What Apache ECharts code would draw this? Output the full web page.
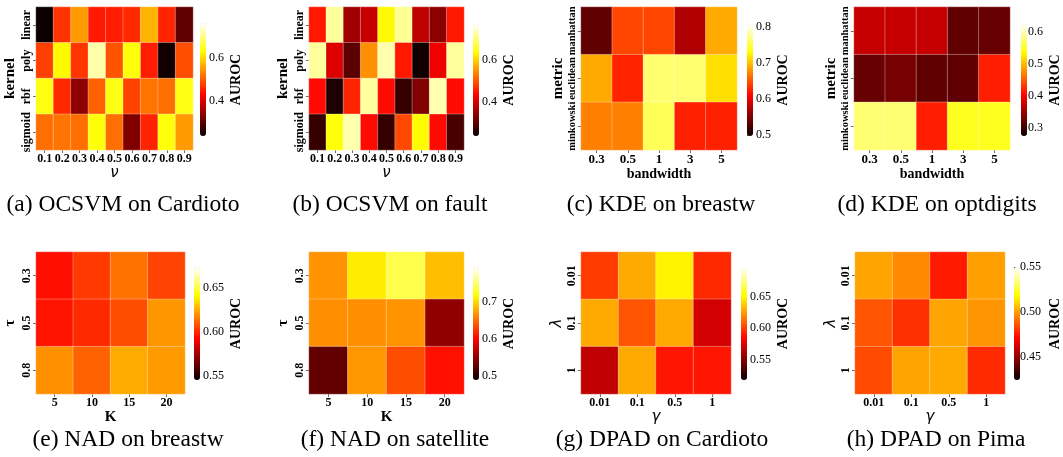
<!DOCTYPE html>
<html>
<head>
<meta charset="utf-8">
<script src="https://cdn.jsdelivr.net/npm/echarts@6/dist/echarts.min.js"></script>
<style>
  html, body { margin: 0; padding: 0; background: #fff; }
  #chart { width: 1063px; height: 457px; }
</style>
</head>
<body>
<div id="chart"></div>
<script>
// axis categories
const nuLabels = ['0.1', '0.2', '0.3', '0.4', '0.5', '0.6', '0.7', '0.8', '0.9']
const kernelLabels = ['linear', 'poly', 'rbf', 'sigmoid']
const bwLabels = ['0.3', '0.5', '1', '3', '5']
const metricLabels = ['manhattan', 'euclidean', 'minkowski']
const kLabels = ['5', '10', '15', '20']
const tauLabels = ['0.3', '0.5', '0.8']
const gammaLabels = ['0.01', '0.1', '0.5', '1']
const lambdaLabels = ['0.01', '0.1', '1']

// AUROC grids, rows top -> bottom
const ocsvmCardioto = [
  [0.234, 0.468, 0.55, 0.448, 0.45, 0.46, 0.57, 0.455, 0.302],
  [0.478, 0.627, 0.47, 0.72, 0.494, 0.635, 0.45, 0.24, 0.49],
  [0.64, 0.46, 0.339, 0.505, 0.64, 0.48, 0.52, 0.515, 0.64],
  [0.515, 0.52, 0.515, 0.635, 0.515, 0.327, 0.455, 0.635, 0.55]
]
const ocsvmFault = [
  [0.45, 0.719, 0.356, 0.386, 0.633, 0.715, 0.38, 0.34, 0.45],
  [0.72, 0.404, 0.3, 0.547, 0.73, 0.45, 0.24, 0.42, 0.72],
  [0.44, 0.25, 0.46, 0.72, 0.44, 0.27, 0.33, 0.73, 0.44],
  [0.27, 0.64, 0.73, 0.44, 0.27, 0.49, 0.635, 0.44, 0.285]
]
const kdeBreastw = [
  [0.537, 0.642, 0.642, 0.574, 0.689],
  [0.689, 0.626, 0.763, 0.763, 0.714],
  [0.669, 0.669, 0.755, 0.625, 0.625]
]
const kdeOptdigits = [
  [0.372, 0.372, 0.372, 0.319, 0.322],
  [0.322, 0.331, 0.319, 0.319, 0.418],
  [0.575, 0.575, 0.418, 0.546, 0.546]
]
const nadBreastw = [
  [0.595, 0.603, 0.614, 0.605],
  [0.596, 0.6, 0.607, 0.621],
  [0.62, 0.611, 0.625, 0.622]
]
const nadSatellite = [
  [0.668, 0.709, 0.74, 0.688],
  [0.666, 0.666, 0.668, 0.55],
  [0.529, 0.67, 0.636, 0.608]
]
const dpadCardioto = [
  [0.599, 0.629, 0.649, 0.594],
  [0.629, 0.606, 0.629, 0.571],
  [0.566, 0.629, 0.589, 0.589]
]
const dpadPima = [
  [0.501, 0.496, 0.475, 0.5],
  [0.486, 0.479, 0.501, 0.498],
  [0.484, 0.501, 0.502, 0.478]
]

// colorbar ranges and ticks
const rangeA = [0.234, 0.765]
const rangeB = [0.235, 0.773]
const rangeC = [0.497, 0.807]
const rangeD = [0.274, 0.624]
const rangeE = [0.545, 0.674]
const rangeF = [0.489, 0.795]
const rangeG = [0.517, 0.698]
const rangeH = [0.424, 0.55]
const ticksA = ['0.4', '0.6']
const ticksB = ['0.4', '0.6']
const ticksC = ['0.5', '0.6', '0.7', '0.8']
const ticksD = ['0.3', '0.4', '0.5', '0.6']
const ticksE = ['0.55', '0.60', '0.65']
const ticksF = ['0.5', '0.6', '0.7']
const ticksG = ['0.55', '0.60', '0.65']
const ticksH = ['0.45', '0.50', '0.55']

// matplotlib "hot" colormap
function hot(t) {
  const c = v => Math.max(0, Math.min(1, v))
  const r = c(0.0416 + t / 0.365079 * (1 - 0.0416))
  const g = c((t - 0.365079) / (0.746032 - 0.365079))
  const b = c((t - 0.746032) / (1 - 0.746032))
  return 'rgb(' + [r, g, b].map(v => Math.round(v * 255)).join(',') + ')'
}
const hotColors = []
for (let i = 0; i <= 60; i++) hotColors.push(hot(i / 60))

const SERIF = 'Liberation Serif'
const GREEK = { fontFamily: 'DejaVu Sans', fontStyle: 'italic', fontWeight: 'normal', fontSize: 15, color: '#000' }
const BOLDNAME = { fontFamily: SERIF, fontWeight: 'bold', fontSize: 15, color: '#000' }

const panels = [
  { x: nuLabels, y: kernelLabels, v: ocsvmCardioto, range: rangeA, ticks: ticksA,
    xName: 'ν', xStyle: GREEK, yName: 'kernel', yStyle: BOLDNAME, xFont: 12, yFont: 12, xGap: 14, yGap: 18,
    box: [36, 7, 157, 143], bar: [200, 23, 6, 113], barGap: 23, cap: '(a) OCSVM on Cardioto', capPos: [123, 205] },
  { x: nuLabels, y: kernelLabels, v: ocsvmFault, range: rangeB, ticks: ticksB,
    xName: 'ν', xStyle: GREEK, yName: 'kernel', yStyle: BOLDNAME, xFont: 12, yFont: 12, xGap: 14, yGap: 18,
    box: [309, 7, 155, 143], bar: [473, 24, 6, 112], barGap: 23, cap: '(b) OCSVM on fault', capPos: [390, 205] },
  { x: bwLabels, y: metricLabels, v: kdeBreastw, range: rangeC, ticks: ticksC,
    xName: 'bandwidth', xStyle: Object.assign({}, BOLDNAME, { fontSize: 14 }), yName: 'metric', yStyle: BOLDNAME, xFont: 13, yFont: 10.5, xGap: 15, yGap: 12,
    box: [581, 7, 156, 143], bar: [747, 24, 6, 112], barGap: 23, cap: '(c) KDE on breastw', capPos: [661, 205] },
  { x: bwLabels, y: metricLabels, v: kdeOptdigits, range: rangeD, ticks: ticksD,
    xName: 'bandwidth', xStyle: Object.assign({}, BOLDNAME, { fontSize: 14 }), yName: 'metric', yStyle: BOLDNAME, xFont: 13, yFont: 10.5, xGap: 15, yGap: 12,
    box: [854, 7, 156, 143], bar: [1021, 24, 6, 112], barGap: 23, cap: '(d) KDE on optdigits', capPos: [937, 205] },
  { x: kLabels, y: tauLabels, v: nadBreastw, range: rangeE, ticks: ticksE,
    xName: 'K', xStyle: BOLDNAME, yName: 'τ', yStyle: BOLDNAME, xFont: 12, yFont: 12, xGap: 14, yGap: 18,
    box: [36, 252, 149, 142], bar: [194, 267, 6, 113], barGap: 29, cap: '(e) NAD on breastw', capPos: [128, 440] },
  { x: kLabels, y: tauLabels, v: nadSatellite, range: rangeF, ticks: ticksF,
    xName: 'K', xStyle: BOLDNAME, yName: 'τ', yStyle: BOLDNAME, xFont: 12, yFont: 12, xGap: 14, yGap: 18,
    box: [309, 252, 155, 142], bar: [473, 267, 6, 113], barGap: 23, cap: '(f) NAD on satellite', capPos: [395, 440] },
  { x: gammaLabels, y: lambdaLabels, v: dpadCardioto, range: rangeG, ticks: ticksG,
    xName: 'γ', xStyle: GREEK, yName: 'λ', yStyle: GREEK, xFont: 12, yFont: 12, xGap: 14, yGap: 16,
    box: [581, 252, 150, 142], bar: [741, 267, 6, 113], barGap: 29, cap: '(g) DPAD on Cardioto', capPos: [662, 440] },
  { x: gammaLabels, y: lambdaLabels, v: dpadPima, range: rangeH, ticks: ticksH,
    xName: 'γ', xStyle: GREEK, yName: 'λ', yStyle: GREEK, xFont: 12, yFont: 12, xGap: 14, yGap: 16,
    box: [855, 252, 150, 142], bar: [1014, 267, 6, 113], barGap: 31, cap: '(h) DPAD on Pima', capPos: [936, 440] }
]

const grid = [], xAxis = [], yAxis = [], series = [], visualMap = [], graphic = []
const tickStyle = { show: true, length: 3, alignWithLabel: true, lineStyle: { color: '#444', width: 0.8 } }

panels.forEach((p, i) => {
  const [l, t, w, h] = p.box
  grid.push({ left: l, top: t, width: w, height: h })
  xAxis.push({
    type: 'category', gridIndex: i, data: p.x, position: 'bottom',
    axisLine: { show: false }, axisTick: tickStyle, splitLine: { show: false },
    axisLabel: { interval: 0, margin: 3, fontFamily: SERIF, fontWeight: 'bold', fontSize: p.xFont, color: '#000' },
    name: p.xName, nameLocation: 'middle', nameGap: p.xGap, nameTextStyle: p.xStyle
  })
  yAxis.push({
    type: 'category', gridIndex: i, data: p.y, inverse: true,
    axisLine: { show: false }, axisTick: tickStyle, splitLine: { show: false },
    axisLabel: { interval: 0, rotate: 90, margin: 3, fontFamily: SERIF, fontWeight: 'bold', fontSize: p.yFont, color: '#000' },
    name: p.yName, nameLocation: 'middle', nameRotate: 90, nameGap: p.yGap, nameTextStyle: p.yStyle
  })
  const data = []
  p.v.forEach((row, r) => row.forEach((val, c) => data.push([c, r, val])))
  series.push({
    type: 'heatmap', xAxisIndex: i, yAxisIndex: i, data: data,
    itemStyle: { borderColor: 'rgba(255,255,255,0.45)', borderWidth: 0.7 },
    emphasis: { disabled: true }
  })
  visualMap.push({
    type: 'continuous', seriesIndex: i, min: p.range[0], max: p.range[1],
    calculable: false, hoverLink: false, padding: 0,
    left: p.bar[0], top: p.bar[1], itemWidth: p.bar[2], itemHeight: p.bar[3],
    inRange: { color: hotColors }
  })
  graphic.push({
    type: 'text', x: p.capPos[0], y: p.capPos[1],
    style: { text: p.cap, fontFamily: SERIF, fontSize: 23.5, fill: '#000',
      textAlign: 'center', textVerticalAlign: 'middle', align: 'center', verticalAlign: 'middle' }
  })
})

// colorbar axes
panels.forEach((p, i) => {
  const gi = panels.length + i
  const [l, t, w, h] = p.bar
  grid.push({ left: l, top: t, width: w, height: h })
  xAxis.push({ type: 'value', gridIndex: gi, show: false, min: 0, max: 1 })
  yAxis.push({
    type: 'value', gridIndex: gi, position: 'right', min: p.range[0], max: p.range[1],
    axisLine: { show: false }, splitLine: { show: false },
    axisTick: { show: true, length: 3, customValues: p.ticks.map(Number), lineStyle: { color: '#000', width: 0.8 } },
    axisLabel: {
      customValues: p.ticks.map(Number), margin: 3, fontFamily: SERIF, fontSize: 12, color: '#000',
      showMaxLabel: true, showMinLabel: true,
      formatter: v => p.ticks.find(s => Math.abs(Number(s) - v) < 1e-9) || ''
    },
    name: 'AUROC', nameLocation: 'middle', nameRotate: 90, nameGap: p.barGap,
    nameTextStyle: { fontFamily: SERIF, fontWeight: 'bold', fontSize: 14, color: '#000' }
  })
})

const chart = echarts.init(document.getElementById('chart'))
chart.setOption({
  animation: false,
  backgroundColor: '#fff',
  grid: grid,
  xAxis: xAxis,
  yAxis: yAxis,
  visualMap: visualMap,
  series: series,
  graphic: graphic
})
</script>
</body>
</html>
